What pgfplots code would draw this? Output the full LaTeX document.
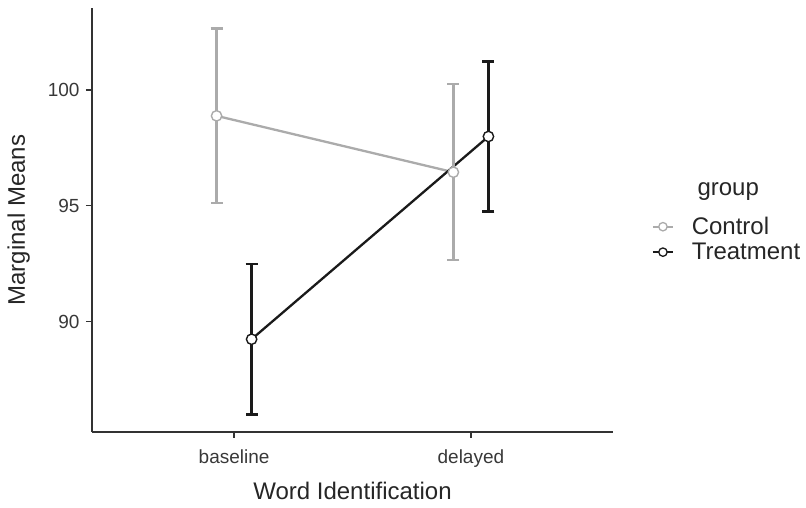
\documentclass[border=0pt]{standalone}
\usepackage{pgfplots}
\pgfplotsset{compat=1.18}
\usepackage{pgfplotstable}
\usepackage{fontspec}
\setmainfont{Liberation Sans}

\definecolor{ctrl}{HTML}{ABABAB}
\definecolor{treat}{HTML}{1A1A1A}
\definecolor{axisgray}{HTML}{333333}

% estimated marginal means with CI half-widths, dodged around x = 1, 2
\pgfplotstableread{
x      y      err
0.926  98.88  3.77
1.926  96.45  3.79
}\ctrldata
\pgfplotstableread{
x      y      err
1.074  89.25  3.24
2.074  97.99  3.23
}\treatdata

\begin{document}
\begin{tikzpicture}
\useasboundingbox (0,0) rectangle (806pt,508pt);
\begin{axis}[
  at={(92pt,76pt)}, anchor=south west,
  scale only axis, width=521pt, height=424pt,
  clip=false,
  xmin=0.4, xmax=2.6, ymin=85.25, ymax=103.53,
  axis x line*=bottom, axis y line*=left,
  axis line style={axisgray, line width=1.3pt},
  xtick={1,2}, xticklabels={baseline,delayed},
  ytick={90,95,100},
  tick align=outside, major tick length=6pt,
  tick style={axisgray, line width=1.3pt},
  /pgf/number format/assume math mode=true,
  ticklabel style={font=\fontsize{19}{22}\selectfont, text=black!78},
  xticklabel style={yshift=-8pt},
  yticklabel style={xshift=-3pt},
  xlabel={Word Identification},
  ylabel={Marginal Means},
  every axis x label/.style={at={(axis description cs:0.5,-0.160)}, anchor=base,
    font=\fontsize{24}{28}\selectfont, text=black!85},
  every axis y label/.style={at={(axis description cs:-0.1286,0.5)}, rotate=90, anchor=base,
    font=\fontsize{24}{28}\selectfont, text=black!85},
  legend style={at={(1.069,0.514)}, anchor=north west, draw=none, fill=none,
    font=\fontsize{24}{26}\selectfont, text=black!85,
    nodes={inner sep=1pt}, row sep=5pt,
    /tikz/every odd column/.append style={column sep=17pt}},
  legend cell align=left,
  legend image code/.code={\draw[mark repeat=2,mark phase=2,#1] plot coordinates {(0pt,0pt)(10pt,0pt)(20pt,0pt)};},
]
% lines
\addplot[ctrl, line width=2.3pt, forget plot] table[x=x,y=y] {\ctrldata};
\addplot[treat, line width=2.3pt, forget plot] table[x=x,y=y] {\treatdata};
% error bars
\addplot[ctrl, only marks, mark=none, forget plot,
  error bars/.cd, y dir=both, y explicit,
  error bar style={ctrl, line width=2.3pt},
  error mark options={ctrl, line width=2.3pt, mark size=6pt, rotate=90}]
  table[x=x,y=y,y error=err] {\ctrldata};
\addplot[treat, only marks, mark=none, forget plot,
  error bars/.cd, y dir=both, y explicit,
  error bar style={treat, line width=2.3pt},
  error mark options={treat, line width=2.3pt, mark size=6pt, rotate=90}]
  table[x=x,y=y,y error=err] {\treatdata};
% points
\addplot[ctrl, only marks, mark=*, mark size=5.2pt, mark options={fill=white, line width=1.4pt}, forget plot]
  table[x=x,y=y] {\ctrldata};
\addplot[treat, only marks, mark=*, mark size=5.2pt, mark options={fill=white, line width=1.4pt}, forget plot]
  table[x=x,y=y] {\treatdata};

\addlegendimage{ctrl, line width=1.6pt, mark=*, mark size=4.2pt, mark options={fill=white, line width=1.3pt}}
\addlegendentry{Control}
\addlegendimage{treat, line width=1.6pt, mark=*, mark size=4.2pt, mark options={fill=white, line width=1.3pt}}
\addlegendentry{Treatment}

\node[anchor=base west, font=\fontsize{24}{26}\selectfont, text=black!85] at (rel axis cs:1.1555,0.5566) {group};
\end{axis}
\end{tikzpicture}
\end{document}
